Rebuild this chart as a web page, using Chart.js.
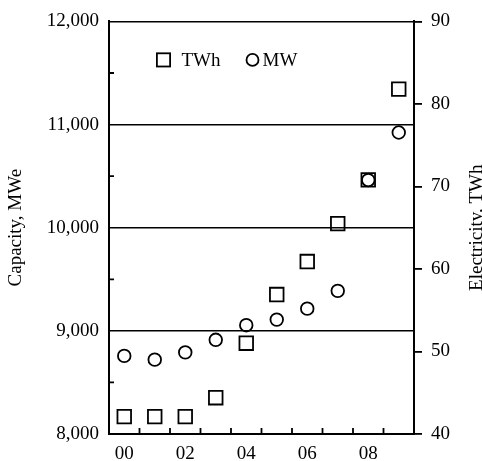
<!DOCTYPE html>
<html>
<head>
<meta charset="utf-8">
<script src="https://cdn.jsdelivr.net/npm/chart.js@4/dist/chart.umd.min.js"></script>
<style>
  html, body { margin: 0; padding: 0; background: #fff; }
  #wrap { width: 482px; height: 461px; overflow: hidden; }
</style>
</head>
<body>
<div id="wrap"><canvas id="c" width="482" height="461"></canvas></div>
<script>
// Years 2000-2009, two-digit labels
const years = ['00', '01', '02', '03', '04', '05', '06', '07', '08', '09'];
// Electricity generated, TWh (right axis)
const electricityTWh = [42.1, 42.1, 42.1, 44.4, 51.0, 56.9, 60.9, 65.5, 70.8, 81.8];
// Installed capacity, MWe (left axis)
const capacityMW = [8757, 8721, 8791, 8913, 9055, 9109, 9215, 9388, 10462, 10923];

const capacityRange = [8000, 12000];
const electricityRange = [40, 90];

const FONT = { family: '"Liberation Serif", "Times New Roman", serif', size: 19 };
const INK = '#000';

// Inward tick marks: between years on the bottom axis, half-steps on the left axis
const innerTicks = {
  id: 'innerTicks',
  afterDraw(chart) {
    const { ctx, chartArea: a, scales } = chart;
    const x = scales.x, y = scales.y;
    ctx.save();
    ctx.strokeStyle = INK;
    ctx.lineWidth = 1.8;
    ctx.beginPath();
    const half = (x.getPixelForValue(1) - x.getPixelForValue(0)) / 2;
    for (let i = 0; i < years.length - 1; i++) {
      const px = x.getPixelForValue(i) + half;
      ctx.moveTo(px, a.bottom);
      ctx.lineTo(px, a.bottom - 6);
    }
    const t = y.ticks;
    for (let i = 0; i < t.length - 1; i++) {
      const py = y.getPixelForValue((t[i].value + t[i + 1].value) / 2);
      ctx.moveTo(a.left, py);
      ctx.lineTo(a.left + 5, py);
    }
    ctx.stroke();
    ctx.restore();
  }
};

// Right-hand axis title, reading bottom to top
const rightTitle = {
  id: 'rightTitle',
  afterDraw(chart) {
    const { ctx, chartArea: a } = chart;
    ctx.save();
    ctx.font = `${FONT.size}px ${FONT.family}`;
    ctx.fillStyle = INK;
    ctx.textAlign = 'center';
    ctx.textBaseline = 'alphabetic';
    ctx.translate(a.right + 68, (a.top + a.bottom) / 2);
    ctx.rotate(-Math.PI / 2);
    ctx.fillText('Electricity, TWh', 0, 0);
    ctx.restore();
  }
};

// Key drawn inside the plot frame
const keyBox = {
  id: 'keyBox',
  afterDraw(chart) {
    const { ctx, chartArea: a } = chart;
    const cy = a.top + 38.5;
    ctx.save();
    ctx.strokeStyle = INK;
    ctx.lineWidth = 1.8;
    ctx.fillStyle = INK;
    ctx.font = `${FONT.size}px ${FONT.family}`;
    ctx.textAlign = 'left';
    ctx.textBaseline = 'alphabetic';
    const sx = a.left + 54.5;
    ctx.strokeRect(sx - 6.6, cy - 6.6, 13.2, 13.2);
    ctx.fillText('TWh', sx + 18, cy + 6);
    const cx = a.left + 143.5;
    ctx.beginPath();
    ctx.arc(cx, cy, 6, 0, Math.PI * 2);
    ctx.stroke();
    ctx.fillText('MW', cx + 10, cy + 6);
    ctx.restore();
  }
};

new Chart(document.getElementById('c'), {
  type: 'line',
  data: {
    labels: years,
    datasets: [
      {
        label: 'MW',
        data: capacityMW,
        yAxisID: 'y',
        showLine: false,
        pointStyle: 'circle',
        pointRadius: 6.3,
        pointBorderWidth: 1.8,
        pointBorderColor: INK,
        pointBackgroundColor: 'rgba(0,0,0,0)',
        order: 0
      },
      {
        label: 'TWh',
        data: electricityTWh,
        yAxisID: 'y1',
        showLine: false,
        pointStyle: 'rect',
        pointRadius: 9.6,
        pointBorderWidth: 1.8,
        pointBorderColor: INK,
        pointBackgroundColor: 'rgba(0,0,0,0)',
        order: 1
      }
    ]
  },
  options: {
    responsive: false,
    animation: false,
    devicePixelRatio: 1,
    layout: { padding: { top: 18, left: 0, right: 0, bottom: 0 } },
    plugins: { legend: { display: false }, tooltip: { enabled: false } },
    scales: {
      x: {
        type: 'category',
        offset: true,
        grid: { display: false, drawTicks: false },
        border: { display: true, color: INK, width: 2 },
        ticks: {
          autoSkip: false,
          maxRotation: 0,
          padding: 9,
          color: INK,
          font: FONT,
          callback: (v, i) => (i % 2 === 0 ? years[i] : '')
        },
        afterFit: s => { s.height = 27; }
      },
      y: {
        position: 'left',
        min: capacityRange[0],
        max: capacityRange[1],
        ticks: {
          stepSize: 1000,
          padding: 10,
          color: INK,
          font: FONT,
          callback: v => v.toLocaleString('en-US')
        },
        grid: { color: INK, lineWidth: 1.6, drawTicks: false },
        border: { display: true, color: INK, width: 2 },
        title: {
          display: true,
          text: 'Capacity, MWe',
          color: INK,
          font: FONT,
          padding: { top: 5, bottom: 0 }
        },
        afterFit: s => { s.width = 109; }
      },
      y1: {
        position: 'right',
        min: electricityRange[0],
        max: electricityRange[1],
        ticks: { stepSize: 10, padding: 9, color: INK, font: FONT },
        grid: { drawOnChartArea: false, drawTicks: true, tickLength: 8, color: INK, lineWidth: 1.8 },
        border: { display: true, color: INK, width: 2 },
        afterFit: s => { s.width = 68; }
      }
    }
  },
  plugins: [innerTicks, rightTitle, keyBox]
});
</script>
</body>
</html>
